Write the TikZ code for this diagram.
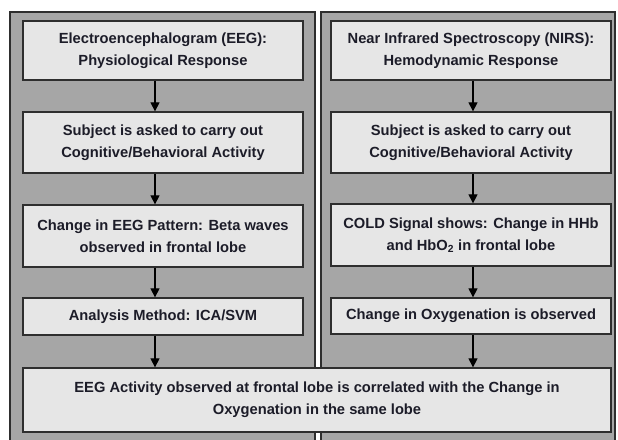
\documentclass[tikz,border=0pt]{standalone}
\usepackage{fontspec}
\setmainfont{Liberation Sans}
\usetikzlibrary{arrows.meta,calc}
\definecolor{panelgray}{HTML}{A6A6A6}
\definecolor{boxgray}{HTML}{E6E6E6}
\definecolor{edgegray}{HTML}{2E2E2E}
\definecolor{txt}{HTML}{1C1C28}
\begin{document}
\begin{tikzpicture}[x=1pt,y=-1pt,
  panel/.style={draw=edgegray,line width=1.4pt,fill=panelgray},
  stepbox/.style={draw=edgegray,line width=1.3pt,fill=boxgray,minimum width=280pt,
    align=center,text=txt,font=\fontsize{14.7}{22}\selectfont\bfseries,inner sep=0pt},
  flow/.style={draw=black,line width=1.2pt,-{Triangle[width=9pt,length=9pt]}}]
\useasboundingbox (0,0) rectangle (618,439);
\clip (0,0) rectangle (618,439);
\fill[white] (0,0) rectangle (618,439);
\draw[panel] (10,12) rectangle (315,450);
\draw[panel] (321,12) rectangle (615,450);
\node[stepbox,minimum height=59pt] (l1) at (163,50.5) {Electroencephalogram (EEG):\\Physiological Response};
\node[stepbox,minimum height=61pt] (l2) at (163,142.5) {Subject is asked to carry out\\Cognitive/Behavioral Activity};
\node[stepbox,minimum height=62pt] (l3) at (163,236) {Change in EEG Pattern: Beta waves\\observed in frontal lobe};
\node[stepbox,minimum height=37pt] (l4) at (163,316.5) {Analysis Method: ICA/SVM};
\node[stepbox,minimum height=59pt] (r1) at (471,50.5) {Near Infrared Spectroscopy (NIRS):\\Hemodynamic Response};
\node[stepbox,minimum height=61pt] (r2) at (471,142.5) {Subject is asked to carry out\\Cognitive/Behavioral Activity};
\node[stepbox,minimum height=62pt] (r3) at (471,235) {COLD Signal shows: Change in HHb\\and HbO\textsubscript{2} in frontal lobe};
\node[stepbox,minimum height=36pt] (r4) at (471,316) {Change in Oxygenation is observed};
\node[stepbox,minimum width=588pt,minimum height=64pt] (bot) at (317,400) {EEG Activity observed at frontal lobe is correlated with the Change in\\Oxygenation in the same lobe};
\draw[flow] ([xshift=-8pt]l1.south) -- ([xshift=-8pt]l2.north);
\draw[flow] ([xshift=-8pt]l2.south) -- ([xshift=-8pt]l3.north);
\draw[flow] ([xshift=-8pt]l3.south) -- ([xshift=-8pt]l4.north);
\draw[flow] ([xshift=-8pt]l4.south) -- ($(bot.north -| l4.south)+(-8,0)$);
\draw[flow] ([xshift=2pt]r1.south) -- ([xshift=2pt]r2.north);
\draw[flow] ([xshift=2pt]r2.south) -- ([xshift=2pt]r3.north);
\draw[flow] ([xshift=2pt]r3.south) -- ([xshift=2pt]r4.north);
\draw[flow] ([xshift=2pt]r4.south) -- ($(bot.north -| r4.south)+(2,0)$);
\end{tikzpicture}
\end{document}
